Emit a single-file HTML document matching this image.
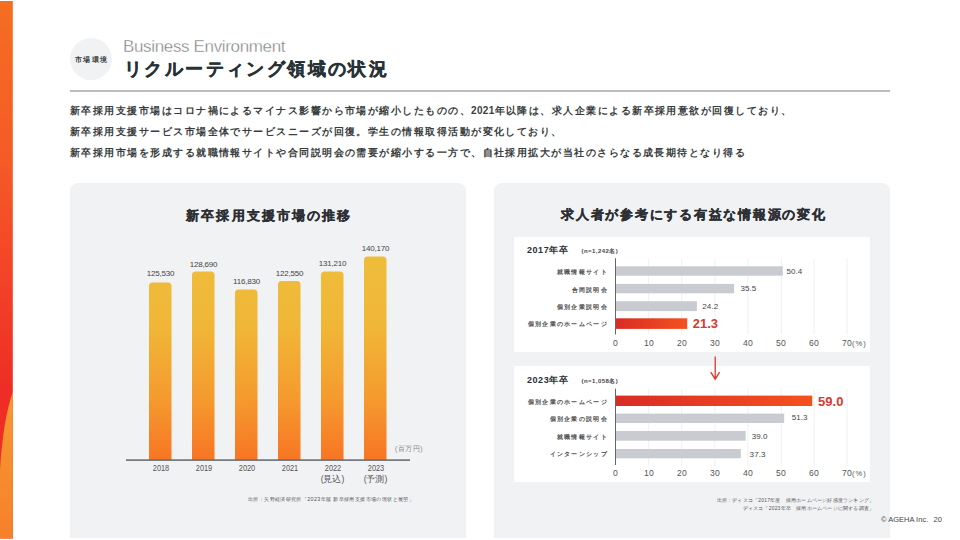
<!DOCTYPE html>
<html><head><meta charset="utf-8">
<style>
*{margin:0;padding:0;box-sizing:border-box}
html,body{width:960px;height:540px;overflow:hidden;background:#fff}
body{position:relative;font-family:"Liberation Sans",sans-serif;color:#333}
.a{position:absolute;white-space:nowrap;line-height:1}
.panel{position:absolute;background:#f1f2f4;border-radius:8px 8px 0 0}
.wbox{position:absolute;background:#fff}
.lbl{font-size:6px;color:#4a4a4a;letter-spacing:1.3px;font-weight:bold}
.val{font-size:8px;color:#444;letter-spacing:0.1px;margin:-0.9px 0 0 -0.5px}
.big{font-size:13px;color:#d63a33;letter-spacing:0;font-weight:bold;margin:-2.0px 0 0 -0.5px}
.tick{font-size:8.6px;color:#555;letter-spacing:0.2px}
.bv{font-size:8px;color:#444;letter-spacing:-0.2px;text-align:center}
.yr{font-size:8.6px;color:#555;letter-spacing:0;text-align:center}
</style></head><body>

<!-- left stripe -->
<svg class="a" style="left:0;top:0" width="14" height="540" viewBox="0 0 14 540">
<defs>
<linearGradient id="st" x1="0" y1="0" x2="0" y2="1">
<stop offset="0" stop-color="#f56e22"/><stop offset="0.3" stop-color="#f55a27"/><stop offset="0.55" stop-color="#f23f28"/><stop offset="0.72" stop-color="#ee2e26"/><stop offset="1" stop-color="#ee2e26"/>
</linearGradient>
<linearGradient id="st2" x1="0" y1="0" x2="0" y2="1">
<stop offset="0" stop-color="#f79a32"/><stop offset="1" stop-color="#f6802b"/>
</linearGradient>
</defs>
<rect x="0" y="1" width="12.8" height="537.5" fill="url(#st)"/>
<path d="M12.8 392 Q3 420 0 470 L0 538.5 L12.8 538.5 Z" fill="url(#st2)"/>
</svg>

<!-- header -->
<div class="a" style="left:70px;top:38px;width:42px;height:42px;border-radius:50%;background:#f1f2f4"></div>
<div class="a" style="left:74.8px;top:55.6px;font-size:7px;font-weight:bold;color:#444;letter-spacing:1.4px">市場環境</div>
<div class="a" style="left:123px;top:38px;font-size:17px;color:#7d8083;letter-spacing:-0.35px;-webkit-text-stroke:0.35px #fff;paint-order:normal">Business Environment</div>
<div class="a" style="left:124px;top:59.8px;font-size:18px;font-weight:bold;color:#283236;letter-spacing:2.4px;-webkit-text-stroke:0.35px #283236">リクルーティング領域の状況</div>
<div class="a" style="left:70px;top:90.4px;width:820px;height:2px;background:#bcbdbe"></div>

<div class="a" style="left:70px;top:100.1px;font-size:10px;font-weight:bold;color:#3a3d40;letter-spacing:1.46px;line-height:21.1px">新卒採用支援市場はコロナ禍によるマイナス影響から市場が縮小したものの、<span style="letter-spacing:0.3px">2021</span>年以降は、求人企業による新卒採用意欲が回復しており、<br>新卒採用支援サービス市場全体でサービスニーズが回復。学生の情報取得活動が変化しており、<br>新卒採用市場を形成する就職情報サイトや合同説明会の需要が縮小する一方で、自社採用拡大が当社のさらなる成長期待となり得る</div>

<!-- panels -->
<div class="panel" style="left:70px;top:183px;width:396px;height:355px"></div>
<div class="panel" style="left:494px;top:183px;width:396px;height:355px"></div>

<!-- left chart -->
<div class="a" style="left:186.3px;top:208.6px;font-size:13px;font-weight:bold;color:#2c2f33;letter-spacing:2.1px;-webkit-text-stroke:0.3px #2c2f33">新卒採用支援市場の推移</div>
<svg class="a" style="left:0;top:0" width="960" height="540">
<defs>
<linearGradient id="bg" gradientUnits="userSpaceOnUse" x1="0" y1="256" x2="0" y2="460">
<stop offset="0" stop-color="#efbd3b"/><stop offset="0.35" stop-color="#f0b637"/><stop offset="0.7" stop-color="#f59a2e"/><stop offset="1" stop-color="#f87524"/>
</linearGradient>
<linearGradient id="rg" x1="0" y1="0" x2="1" y2="0">
<stop offset="0" stop-color="#d92c25"/><stop offset="1" stop-color="#f5511f"/>
</linearGradient>
</defs>
<g fill="url(#bg)">
<path d="M149 460 V286 q0 -3.5 3.5 -3.5 h15.5 q3.5 0 3.5 3.5 V460Z"/>
<path d="M192 460 V275 q0 -3.5 3.5 -3.5 h15.5 q3.5 0 3.5 3.5 V460Z"/>
<path d="M235 460 V293 q0 -3.5 3.5 -3.5 h15.5 q3.5 0 3.5 3.5 V460Z"/>
<path d="M278 460 V284.5 q0 -3.5 3.5 -3.5 h15.5 q3.5 0 3.5 3.5 V460Z"/>
<path d="M321 460 V275 q0 -3.5 3.5 -3.5 h15.5 q3.5 0 3.5 3.5 V460Z"/>
<path d="M364 460 V260 q0 -3.5 3.5 -3.5 h15.5 q3.5 0 3.5 3.5 V460Z"/>
</g>
<rect x="126" y="459.3" width="284" height="1.6" fill="#6b6e70"/>
</svg>

<div class="a bv" style="left:135.5px;width:50px;top:269.5px">125,530</div><div class="a yr" style="left:135.5px;width:50px;top:463.6px;transform:scaleX(0.86)">2018</div><div class="a bv" style="left:178.5px;width:50px;top:261.3px">128,690</div><div class="a yr" style="left:178.5px;width:50px;top:463.6px;transform:scaleX(0.86)">2019</div><div class="a bv" style="left:221.5px;width:50px;top:278.3px">116,830</div><div class="a yr" style="left:221.5px;width:50px;top:463.6px;transform:scaleX(0.86)">2020</div><div class="a bv" style="left:264.5px;width:50px;top:269.6px">122,550</div><div class="a yr" style="left:264.5px;width:50px;top:463.6px;transform:scaleX(0.86)">2021</div><div class="a bv" style="left:307.5px;width:50px;top:260.1px">131,210</div><div class="a yr" style="left:307.5px;width:50px;top:463.6px;transform:scaleX(0.86)">2022</div><div class="a yr" style="left:307.5px;width:50px;top:474.5px">(見込)</div><div class="a bv" style="left:350.5px;width:50px;top:244.8px">140,170</div><div class="a yr" style="left:350.5px;width:50px;top:463.6px;transform:scaleX(0.86)">2023</div><div class="a yr" style="left:350.5px;width:50px;top:474.5px">(予測)</div><div class="a" style="left:395px;top:445.5px;font-size:6.5px;color:#888;letter-spacing:0.5px">(百万円)</div><div class="a" style="left:248px;top:496.8px;font-size:5.4px;color:#555;letter-spacing:0.38px">出所：矢野経済研究所「2023年版 新卒採用支援市場の現状と展望」</div>
<!-- right chart -->
<div class="a" style="left:561px;top:207.9px;font-size:13px;font-weight:bold;color:#2c2f33;letter-spacing:1.76px;-webkit-text-stroke:0.3px #2c2f33">求人者が参考にする有益な情報源の変化</div>
<div class="wbox" style="left:514px;top:236.5px;width:356px;height:115.5px"></div>
<div class="wbox" style="left:514px;top:366px;width:356px;height:116px"></div>
<svg class="a" style="left:0;top:0" width="960" height="540">
<defs>
<linearGradient id="rg" x1="0" y1="0" x2="1" y2="0">
<stop offset="0" stop-color="#d92c25"/><stop offset="1" stop-color="#f5511f"/>
</linearGradient>
</defs>
<g stroke="#ececec" stroke-width="0.8">
<path d="M648.6 258.5V334M681.7 258.5V334M714.8 258.5V334M747.9 258.5V334M781.4 258.5V334M814 258.5V334M847 258.5V334"/>
<path d="M648.6 389V466M681.7 389V466M714.8 389V466M747.9 389V466M781.4 389V466M814 389V466M847 389V466"/>
</g>
<g fill="#c8ccd0">
<rect x="616" y="266.3" width="166.8" height="9.4"/>
<rect x="616" y="283.9" width="118.1" height="9.4"/>
<rect x="616" y="301.2" width="80.9" height="9.9"/>
<rect x="616" y="413.6" width="168.2" height="9.4"/>
<rect x="616" y="431" width="129.7" height="9.7"/>
<rect x="616" y="449" width="124.8" height="9.3"/>
</g>
<rect x="616" y="318.3" width="71.2" height="10.6" fill="url(#rg)"/>
<rect x="616" y="395.6" width="196.2" height="10.4" fill="url(#rg)"/>
<g stroke="#666" stroke-width="1">
<path d="M615.5 258.2V334.5M615.5 388.7V465"/>
</g>
<g stroke="#d8392c" stroke-width="1.3" fill="none">
<path d="M715.2 356.4V379.2M710.8 372.2L715.2 379.2L719.6 372.2"/>
</g>
</svg>

<div class="a" style="left:527px;top:245.5px;font-size:9px;font-weight:bold;color:#2c2f33;letter-spacing:0.55px">2017年卒</div>
<div class="a" style="left:581.5px;top:248px;font-size:6px;font-weight:bold;color:#444;letter-spacing:0.45px">(n=1,242名)</div>
<div class="a" style="left:527px;top:375.7px;font-size:9px;font-weight:bold;color:#2c2f33;letter-spacing:0.55px">2023年卒</div>
<div class="a" style="left:581.5px;top:377.5px;font-size:6px;font-weight:bold;color:#444;letter-spacing:0.45px">(n=1,058名)</div>
<div class="a lbl" style="right:352px;top:268.9px">就職情報サイト</div>
<div class="a lbl" style="right:352px;top:286.8px">合同説明会</div>
<div class="a lbl" style="right:352px;top:304.4px">個別企業説明会</div>
<div class="a lbl" style="right:352px;top:320.7px">個別企業のホームページ</div>
<div class="a lbl" style="right:352px;top:398.7px">個別企業のホームページ</div>
<div class="a lbl" style="right:352px;top:415.7px">個別企業の説明会</div>
<div class="a lbl" style="right:352px;top:433.7px">就職情報サイト</div>
<div class="a lbl" style="right:352px;top:451.3px">インターンシップ</div>
<div class="a val" style="left:786.9px;top:268.4px">50.4</div>
<div class="a val" style="left:740.9px;top:286.1px">35.5</div>
<div class="a val" style="left:702.8px;top:303.9px">24.2</div>
<div class="a big" style="left:693.3px;top:319.4px">21.3</div>
<div class="a big" style="left:818.6px;top:396.7px">59.0</div>
<div class="a val" style="left:792.2px;top:414.7px">51.3</div>
<div class="a val" style="left:752.2px;top:433.8px">39.0</div>
<div class="a val" style="left:750.1px;top:451.8px">37.3</div>
<div class="a tick" style="left:595.5px;width:40px;text-align:center;top:339.2px">0</div><div class="a tick" style="left:629px;width:40px;text-align:center;top:339.2px">10</div><div class="a tick" style="left:662px;width:40px;text-align:center;top:339.2px">20</div><div class="a tick" style="left:695px;width:40px;text-align:center;top:339.2px">30</div><div class="a tick" style="left:728px;width:40px;text-align:center;top:339.2px">40</div><div class="a tick" style="left:761px;width:40px;text-align:center;top:339.2px">50</div><div class="a tick" style="left:794px;width:40px;text-align:center;top:339.2px">60</div><div class="a tick" style="left:827px;width:40px;text-align:center;top:339.2px">70</div><div class="a tick" style="left:852px;font-size:7.5px;margin-top:0.8px;letter-spacing:-0.5px;top:339.2px">( % )</div><div class="a tick" style="left:595.5px;width:40px;text-align:center;top:469.1px">0</div><div class="a tick" style="left:629px;width:40px;text-align:center;top:469.1px">10</div><div class="a tick" style="left:662px;width:40px;text-align:center;top:469.1px">20</div><div class="a tick" style="left:695px;width:40px;text-align:center;top:469.1px">30</div><div class="a tick" style="left:728px;width:40px;text-align:center;top:469.1px">40</div><div class="a tick" style="left:761px;width:40px;text-align:center;top:469.1px">50</div><div class="a tick" style="left:794px;width:40px;text-align:center;top:469.1px">60</div><div class="a tick" style="left:827px;width:40px;text-align:center;top:469.1px">70</div><div class="a tick" style="left:852px;font-size:7.5px;margin-top:0.8px;letter-spacing:-0.5px;top:469.1px">( % )</div>
<div class="a" style="right:85.8px;top:495.7px;font-size:5px;color:#555;text-align:right;line-height:8.2px;letter-spacing:0.2px">出所：ディスコ「2017年度　採用ホームページ好感度ランキング」<br>ディスコ「2023年卒　採用ホームページに関する調査」</div>
<div class="a" style="left:881px;top:516.3px;font-size:7.5px;color:#444">© AGEHA Inc.</div>
<div class="a" style="left:933.5px;top:516.3px;font-size:7.5px;color:#444">20</div>
</body></html>
